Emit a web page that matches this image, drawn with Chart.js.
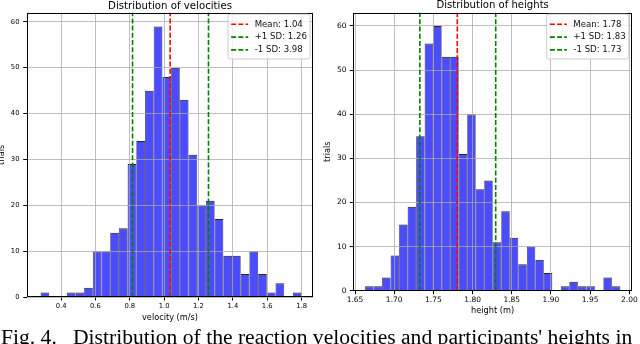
<!DOCTYPE html>
<html>
<head>
<meta charset="utf-8">
<script src="https://cdn.jsdelivr.net/npm/chart.js@4.4.1/dist/chart.umd.min.js"></script>
<style>
  html, body { margin: 0; padding: 0; background: #fff; }
  body { width: 640px; height: 344px; position: relative; overflow: hidden; }
  .panel { position: absolute; top: 0; }
  #caption {
    position: absolute; left: 1px; top: 327.4px;
    font: 21.6px/21.6px "Liberation Serif", "Times New Roman", serif;
    white-space: nowrap; color: #000;
  }
</style>
</head>
<body>
<canvas id="chartVel" class="panel" style="left:0" width="320" height="330"></canvas>
<canvas id="chartHeight" class="panel" style="left:320px" width="320" height="330"></canvas>
<div id="caption">Fig. 4.&nbsp;&nbsp; Distribution of the reaction velocities and participants' heights in</div>
<script>
// velocity histogram, 30 bins
const velocityCounts = [1, 0, 0, 1, 1, 2, 10, 10, 14, 15, 29, 34, 45, 59, 48, 50, 43, 31, 20, 21, 17, 9, 9, 5, 10, 5, 1, 3, 0, 1];
const velocityRange = [0.281, 1.800];
const velocityTicks = [0.4, 0.6, 0.8, 1.0, 1.2, 1.4, 1.6, 1.8];
const velocityLines = [1.035, 1.258, 0.816];
const velocityLabels = ['Mean: 1.04', '+1 SD: 1.26', '-1 SD: 3.98'];

// height histogram, 30 bins
const heightCounts = [1, 1, 3, 8, 15, 19, 35, 56, 60, 53, 53, 31, 40, 23, 25, 11, 18, 12, 6, 10, 7, 4, 0, 1, 2, 1, 1, 0, 3, 1];
const heightRange = [1.6628, 1.9886];
const heightTicks = [1.65, 1.70, 1.75, 1.80, 1.85, 1.90, 1.95, 2.00];
const heightLines = [1.7805, 1.8295, 1.7327];
const heightLabels = ['Mean: 1.78', '+1 SD: 1.83', '-1 SD: 1.73'];

const countTicks = [0, 10, 20, 30, 40, 50, 60];
const lineColors = ['#ff0000', '#008000', '#008000'];

const FONT = '"DejaVu Sans", sans-serif';

function binPoints(counts, range) {
  const w = (range[1] - range[0]) / counts.length;
  return counts.map((c, i) => ({ x: range[0] + (i + 0.5) * w, y: c }));
}

// title, dashed reference lines, spines and legend drawn like matplotlib
function decorPlugin(o) {
  return {
    id: 'decor',
    afterDraw(chart) {
      const ctx = chart.ctx;
      const a = chart.chartArea;
      const xs = chart.scales.x;
      ctx.save();

      // axvlines
      ctx.lineWidth = 1.6;
      ctx.setLineDash([5, 2.2]);
      o.lines.forEach((v, i) => {
        const px = xs.getPixelForValue(v);
        ctx.strokeStyle = lineColors[i];
        ctx.beginPath();
        ctx.moveTo(px, a.bottom);
        ctx.lineTo(px, a.top);
        ctx.stroke();
      });
      ctx.setLineDash([]);

      // spines
      ctx.strokeStyle = '#000';
      ctx.lineWidth = 1;
      const l = Math.round(a.left) + 0.5, r = Math.round(a.right) - 0.5;
      const t = Math.round(a.top) + 0.5, b = Math.round(a.bottom) - 0.5;
      ctx.strokeRect(l, t, r - l, b - t);

      // title
      ctx.fillStyle = '#000';
      ctx.font = o.titleSize + 'px ' + FONT;
      ctx.textAlign = 'center';
      ctx.textBaseline = 'alphabetic';
      ctx.fillText(o.title, (a.left + a.right) / 2, o.titleY);

      // legend
      const fs = 8.6;
      ctx.font = fs + 'px ' + FONT;
      const tw = Math.max(...o.labels.map(s => ctx.measureText(s).width));
      const pad = 3.2, handle = 17, gap = 6.5, rowH = 12.8;
      const boxW = pad + handle + gap + tw + pad;
      const boxH = 2 * pad + rowH * o.labels.length;
      const bx = a.right - 3.2 - boxW, by = a.top + 1.5;
      ctx.beginPath();
      ctx.roundRect(bx, by, boxW, boxH, 2.5);
      ctx.fillStyle = 'rgba(255,255,255,0.8)';
      ctx.fill();
      ctx.strokeStyle = '#cccccc';
      ctx.lineWidth = 1;
      ctx.stroke();
      ctx.textAlign = 'left';
      ctx.textBaseline = 'middle';
      o.labels.forEach((s, i) => {
        const cy = by + pad + rowH * (i + 0.5) + 0.5;
        ctx.strokeStyle = lineColors[i];
        ctx.lineWidth = 1.6;
        ctx.setLineDash([5, 2.2]);
        ctx.beginPath();
        ctx.moveTo(bx + pad, cy);
        ctx.lineTo(bx + pad + handle, cy);
        ctx.stroke();
        ctx.setLineDash([]);
        ctx.fillStyle = '#111';
        ctx.fillText(s, bx + pad + handle + gap, cy);
      });
      ctx.restore();
    }
  };
}

function makeHist(id, o) {
  new Chart(document.getElementById(id), {
    type: 'bar',
    data: {
      datasets: [{
        data: binPoints(o.counts, o.range),
        backgroundColor: 'rgba(0,0,255,0.7)',
        borderColor: 'rgba(0,0,0,0.85)',
        borderWidth: { top: 1, left: 0.6, right: 0.6, bottom: 0 },
        borderSkipped: false,
        barPercentage: 1,
        categoryPercentage: 1,
        inflateAmount: 0
      }]
    },
    options: {
      responsive: false,
      animation: false,
      layout: { padding: o.padding },
      plugins: { legend: { display: false }, tooltip: { enabled: false } },
      scales: {
        x: {
          type: 'linear',
          offset: false,
          min: o.xMin,
          max: o.xMax,
          afterBuildTicks: (s) => { s.ticks = o.xTicks.map(v => ({ value: v })); },
          afterFit: (s) => { s.height = o.xHeight; },
          ticks: {
            autoSkip: false, maxRotation: 0, minRotation: 0,
            callback: (v) => Number(v).toFixed(o.decimals),
            font: { family: FONT, size: o.tickSize },
            color: '#000',
            padding: o.xTickPad
          },
          grid: { offset: false, color: 'rgba(170,170,170,0.75)', lineWidth: 1, z: 1, tickLength: 3.5, tickColor: '#000', tickWidth: 1 },
          border: { display: false },
          title: { display: true, text: o.xTitle, color: '#000', font: { family: FONT, size: 8.2 }, padding: { top: 0, bottom: 0 } }
        },
        y: {
          type: 'linear',
          min: 0,
          max: o.yMax,
          afterBuildTicks: (s) => { s.ticks = countTicks.map(v => ({ value: v })); },
          afterFit: (s) => { s.width = o.yWidth; },
          ticks: {
            font: { family: FONT, size: o.tickSize },
            color: '#000',
            padding: o.yTickPad
          },
          grid: { color: 'rgba(170,170,170,0.75)', lineWidth: 1, z: 1, tickLength: 3.5, tickColor: '#000', tickWidth: 1 },
          border: { display: false },
          title: { display: true, text: 'trials', color: '#000', font: { family: FONT, size: 8.2 }, padding: { top: o.yTitlePad, bottom: 0 } }
        }
      }
    },
    plugins: [decorPlugin(o)]
  });
}

makeHist('chartVel', {
  counts: velocityCounts, range: velocityRange, xTicks: velocityTicks,
  lines: velocityLines, labels: velocityLabels,
  title: 'Distribution of velocities', titleY: 8.5, titleSize: 10.2,
  xTitle: 'velocity (m/s)', xMin: 0.200, xMax: 1.868, yMax: 62.0, decimals: 1,
  padding: { left: 0, right: 6.7, top: 12.7, bottom: 7 },
  xHeight: 26, yWidth: 26.7, tickSize: 6.8, xTickPad: 1.9, yTickPad: 3.7, yTitlePad: -2.7
});

makeHist('chartHeight', {
  counts: heightCounts, range: heightRange, xTicks: heightTicks,
  lines: heightLines, labels: heightLabels,
  title: 'Distribution of heights', titleY: 7.5, titleSize: 10.1,
  xTitle: 'height (m)', xMin: 1.6478, xMax: 2.0034, yMax: 63.0, decimals: 2,
  padding: { left: 0, right: 8, top: 12.7, bottom: 14.2 },
  xHeight: 25.1, yWidth: 33.3, tickSize: 7.5, xTickPad: 1.0, yTickPad: 3.3, yTitlePad: 3.4
});
</script>
</body>
</html>
